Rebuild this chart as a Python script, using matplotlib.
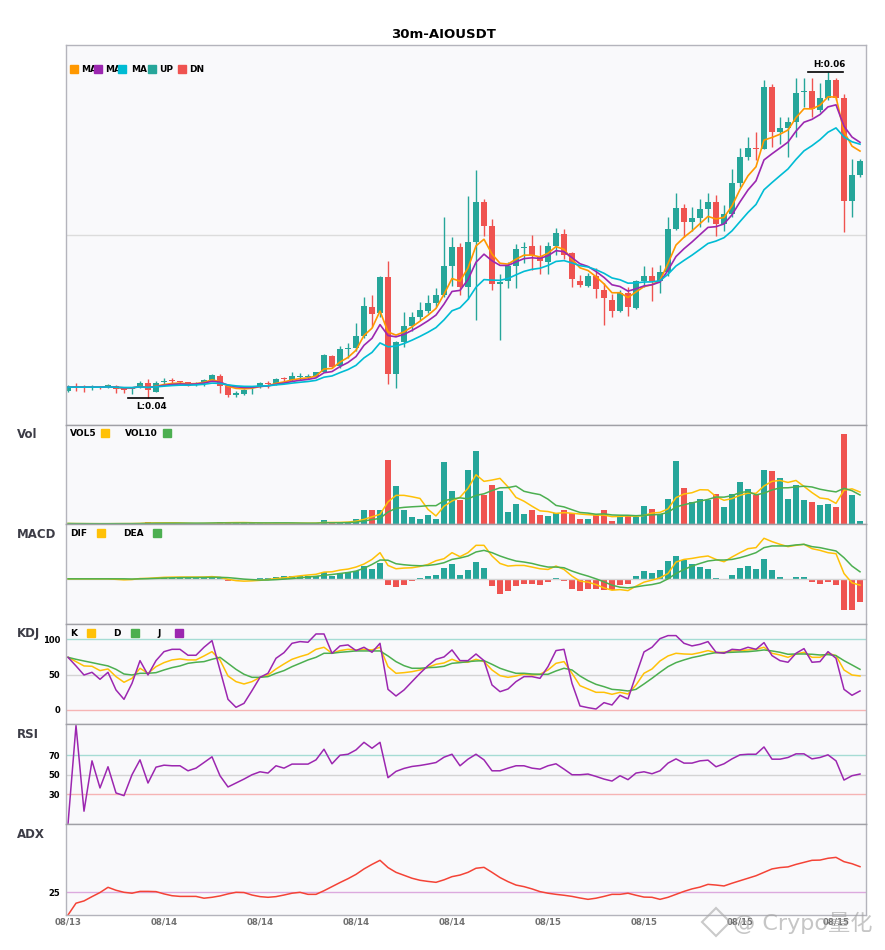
import matplotlib
matplotlib.use('Agg')
import matplotlib.pyplot as plt
from matplotlib.patches import Rectangle, Polygon
import numpy as np
import pandas as pd

#--------------------------     data     --------------------------#

tick_idx = [0, 12, 24, 36, 48, 60, 72, 84, 96]
tick_labels = ['08/13', '08/14', '08/14', '08/14', '08/14', '08/15', '08/15', '08/15', '08/15']

opens = [
    0.04041, 0.04070, 0.04068, 0.04065, 0.04067, 0.04064, 0.04074, 0.04062, 0.04053, 0.04066,
    0.04091, 0.04039, 0.04099, 0.04108, 0.04102, 0.04097, 0.04081, 0.04091, 0.04111, 0.04136,
    0.04070, 0.04015, 0.04026, 0.04062, 0.04076, 0.04090, 0.04085, 0.04125, 0.04111, 0.04130,
    0.04130, 0.04131, 0.04162, 0.04258, 0.04193, 0.04301, 0.04305, 0.04377, 0.04560, 0.04520,
    0.04744, 0.04148, 0.04346, 0.04444, 0.04499, 0.04536, 0.04581, 0.04632, 0.04810, 0.04925,
    0.04683, 0.04959, 0.05204, 0.05055, 0.04700, 0.04720, 0.04810, 0.04922, 0.04933, 0.04871,
    0.04836, 0.04933, 0.05004, 0.04888, 0.04718, 0.04687, 0.04749, 0.04663, 0.04602, 0.04536,
    0.04643, 0.04551, 0.04718, 0.04749, 0.04718, 0.04771, 0.05035, 0.05164, 0.05082, 0.05106,
    0.05159, 0.05202, 0.05067, 0.05127, 0.05321, 0.05480, 0.05533, 0.05529, 0.05909, 0.05630,
    0.05658, 0.05695, 0.05877, 0.05883, 0.05766, 0.05842, 0.05950, 0.05842, 0.05208, 0.05368]
highs = [
    0.04081, 0.04090, 0.04081, 0.04081, 0.04074, 0.04084, 0.04078, 0.04065, 0.04065, 0.04105,
    0.04117, 0.04101, 0.04123, 0.04123, 0.04105, 0.04099, 0.04099, 0.04117, 0.04148, 0.04148,
    0.04074, 0.04041, 0.04056, 0.04076, 0.04095, 0.04105, 0.04123, 0.04131, 0.04156, 0.04152,
    0.04148, 0.04162, 0.04271, 0.04264, 0.04320, 0.04336, 0.04462, 0.04622, 0.04632, 0.04749,
    0.04842, 0.04349, 0.04530, 0.04526, 0.04591, 0.04632, 0.04673, 0.05112, 0.04990, 0.04953,
    0.05239, 0.05398, 0.05221, 0.05096, 0.04761, 0.04836, 0.04945, 0.04957, 0.05000, 0.04939,
    0.04959, 0.05041, 0.05035, 0.04898, 0.04755, 0.04765, 0.04800, 0.04704, 0.04638, 0.04659,
    0.04683, 0.04724, 0.04810, 0.04806, 0.04816, 0.05109, 0.05256, 0.05190, 0.05172, 0.05221,
    0.05256, 0.05242, 0.05184, 0.05402, 0.05535, 0.05603, 0.05633, 0.05950, 0.05924, 0.05725,
    0.05725, 0.05964, 0.05964, 0.05964, 0.05930, 0.06001, 0.05964, 0.05867, 0.05466, 0.05466]
lows = [
    0.04038, 0.04044, 0.04038, 0.04050, 0.04056, 0.04062, 0.04032, 0.04032, 0.04022, 0.04062,
    0.03998, 0.04038, 0.04087, 0.04084, 0.04081, 0.04074, 0.04071, 0.04070, 0.04108, 0.04032,
    0.04003, 0.04007, 0.04015, 0.04026, 0.04062, 0.04062, 0.04081, 0.04095, 0.04105, 0.04111,
    0.04117, 0.04127, 0.04160, 0.04182, 0.04185, 0.04246, 0.04285, 0.04369, 0.04438, 0.04499,
    0.04087, 0.04058, 0.04315, 0.04413, 0.04479, 0.04520, 0.04560, 0.04622, 0.04687, 0.04632,
    0.04606, 0.04479, 0.04994, 0.04659, 0.04356, 0.04673, 0.04673, 0.04828, 0.04785, 0.04761,
    0.04761, 0.04877, 0.04851, 0.04679, 0.04679, 0.04679, 0.04612, 0.04448, 0.04499, 0.04524,
    0.04505, 0.04545, 0.04683, 0.04597, 0.04646, 0.04749, 0.05031, 0.04990, 0.05025, 0.05051,
    0.05078, 0.04994, 0.05025, 0.05110, 0.05296, 0.05460, 0.05460, 0.05525, 0.05541, 0.05556,
    0.05480, 0.05603, 0.05786, 0.05725, 0.05756, 0.05828, 0.05828, 0.05020, 0.05112, 0.05357]
closes = [
    0.04066, 0.04068, 0.04065, 0.04067, 0.04065, 0.04077, 0.04054, 0.04050, 0.04062, 0.04091,
    0.04046, 0.04091, 0.04102, 0.04102, 0.04096, 0.04076, 0.04091, 0.04111, 0.04142, 0.04076,
    0.04015, 0.04033, 0.04050, 0.04066, 0.04091, 0.04084, 0.04119, 0.04115, 0.04136, 0.04133,
    0.04133, 0.04156, 0.04264, 0.04187, 0.04299, 0.04305, 0.04381, 0.04565, 0.04516, 0.04744,
    0.04148, 0.04346, 0.04444, 0.04499, 0.04540, 0.04581, 0.04632, 0.04810, 0.04925, 0.04683,
    0.04959, 0.05204, 0.05055, 0.04700, 0.04714, 0.04810, 0.04912, 0.04925, 0.04877, 0.04842,
    0.04933, 0.05010, 0.04877, 0.04728, 0.04694, 0.04749, 0.04667, 0.04612, 0.04536, 0.04646,
    0.04557, 0.04718, 0.04749, 0.04718, 0.04771, 0.05035, 0.05164, 0.05082, 0.05102, 0.05159,
    0.05202, 0.05066, 0.05127, 0.05319, 0.05480, 0.05531, 0.05529, 0.05909, 0.05630, 0.05658,
    0.05695, 0.05872, 0.05883, 0.05771, 0.05842, 0.05950, 0.05842, 0.05208, 0.05368, 0.05454]

# moving-average spans of the three price lines
ma_spans = [5, 8, 15]

# volume, thousands
volumes = [
    0.5, 0.3, 0.3, 0.2, 0.2, 0.4, 0.6, 0.5, 0.4, 1.0,
    2.5, 1.2, 0.6, 0.6, 0.5, 0.6, 0.4, 0.8, 1.5, 2.2,
    1.6, 1.0, 1.0, 0.6, 0.8, 0.7, 1.0, 0.8, 1.0, 0.6,
    0.6, 1.2, 4.3, 1.0, 1.0, 2.3, 5.3, 13.7, 13.7, 13.7,
    64.3, 38.3, 13.7, 6.7, 5.3, 9.3, 5.3, 62.5, 32.7, 24.3,
    54.3, 73.3, 29.3, 39.3, 32.7, 11.7, 20.3, 10.3, 14.3, 9.3,
    8.3, 11.0, 14.3, 11.0, 5.3, 5.3, 8.7, 14.3, 3.3, 6.7,
    7.7, 6.7, 18.3, 15.3, 10.3, 25.3, 63.3, 36.3, 21.7, 25.3,
    24.3, 30.3, 17.3, 30.3, 41.7, 35.3, 29.3, 54.3, 53.3, 46.3,
    25.3, 39.3, 24.3, 22.3, 19.3, 20.3, 17.3, 90.3, 29.3, 3.3]

# MACD, x1e-5
dif = [
    0, 0, 0, 0, 0, 0, -0.5, -1, -0.7, 0.3,
    0.5, 1, 1.5, 1.7, 1.8, 1.8, 1.8, 1.8, 2.2, 1.5,
    -0.5, -1.8, -2.3, -2, -1.5, -0.7, 0.3, 1, 2, 3,
    3.8, 4.5, 6.7, 7, 8.7, 9.7, 11.7, 14.7, 19.3, 26,
    13.3, 10, 10.7, 11, 12.3, 14.3, 18, 20, 26, 22,
    26, 33.3, 33.3, 22.7, 15.3, 12.7, 13.3, 13.3, 11.7, 10,
    9.3, 12.7, 9.3, 2.7, -2.3, -3.3, -5.7, -9, -11.3, -10.7,
    -11.7, -7.3, -3.3, -1.3, 1, 5.3, 16.7, 19.3, 20.3, 21.7,
    22.7, 19.3, 17, 21.7, 26, 30, 31, 40.3, 37, 34.3,
    32, 33.3, 34.3, 30, 28.3, 26, 25, 5.3, -4, -6.3]
dea = [
    0, 0, 0, 0, 0, 0, 0, 0, -0.2, 0,
    0.2, 0.5, 0.8, 1, 1.2, 1.3, 1.3, 1.4, 1.5, 1.5,
    1.2, 0.5, -0.3, -0.8, -1.2, -1.2, -0.8, -0.3, 0.3, 1,
    1.8, 2.5, 3.5, 4.3, 5.3, 6.3, 7.7, 10.5, 14.3, 18.7,
    18.5, 15, 14, 13.3, 13, 13.3, 14.3, 16, 19.3, 20.7,
    22.7, 26.7, 28.3, 26, 22.7, 20, 17.7, 16.7, 15.3, 13.3,
    11.7, 11.7, 11, 7.7, 5, 2.7, 0, -3, -6.3, -8.3,
    -9, -8, -6.7, -5.7, -4, 0, 5.3, 9.3, 12.7, 15.3,
    17.7, 18.7, 18.7, 19.3, 21, 23.3, 26, 31, 32.7, 32.7,
    32.7, 33.7, 34.3, 32, 31, 29.3, 27.7, 21, 12.7, 7]
macd_hist = [
    0, 0, 0, 0, 0, 0, -0.7, -1, -0.8, 0.5,
    0.5, 0.8, 1.2, 1.3, 1.2, 1, 1, 0.8, 1.3, 0.8,
    -2, -2.3, -1.5, -0.5, 1, 1, 2.3, 2.7, 3.3, 3.3,
    3.3, 3.3, 6.7, 3.3, 6, 6.7, 7.7, 12.7, 10, 15.3,
    -6.3, -8.3, -5.7, -1.7, 1, 3.3, 4.3, 10.3, 14.3, 4.3,
    8.3, 16.7, 10.3, -7.3, -14.7, -12.3, -7.3, -4.7, -4.7, -6.3,
    -3.3, 1.3, -2.3, -9.7, -12.3, -9.7, -9.7, -10.7, -10.7, -5.7,
    -4.7, 2.7, 7.7, 6, 8.3, 17.3, 22.7, 18.7, 14.3, 11.7,
    9.3, 1.3, -0.7, 4.3, 10.3, 12.7, 9.3, 19.3, 8.3, 2.3,
    -0.3, 2.3, 2.3, -3.3, -4.7, -2.7, -6.3, -30.7, -30.7, -23.3]

k_vals = [
    74.5, 68.4, 62.3, 61.8, 55.7, 58, 47.2, 39.2, 44.8, 59,
    51.9, 61.3, 67, 70.8, 72.2, 70.8, 70.8, 76.4, 82.5, 70.8,
    48.1, 40.1, 36.8, 40.1, 46.2, 49.5, 58, 65.1, 71.7, 75.5,
    78.8, 85.8, 88.7, 80.2, 84, 85.8, 84.9, 85.8, 84.9, 88.7,
    61.3, 51.9, 52.8, 54.2, 56.6, 60.4, 64.6, 66.5, 71.7, 67.5,
    67.5, 71.7, 68.4, 56.6, 48.6, 46.2, 48.1, 50.9, 49.5, 50.5,
    56.6, 66, 68.4, 51.9, 34.4, 29.7, 25, 25, 22.2, 25,
    22.6, 35.4, 51.9, 58, 69.3, 76.4, 80.2, 79.2, 78.8, 81.1,
    84, 81.1, 81.6, 83.5, 84, 84.9, 85.8, 88.7, 80.2, 77.8,
    74.5, 79.2, 81.6, 74.5, 74.5, 80.2, 76.9, 56.6, 49.5, 48.1]
d_vals = [
    74.5, 71.7, 69.3, 67, 64.6, 62.3, 57.5, 50.9, 49.5, 51.9,
    51.9, 52.8, 56.6, 59.9, 62.3, 66, 67.5, 68.4, 71.7, 74.5,
    66, 57.5, 50.5, 46.2, 46.2, 47.2, 51.9, 55.7, 61.3, 66,
    70.8, 74.5, 80.2, 80.2, 81.6, 82.5, 83.5, 83.5, 83.5, 83.5,
    76.4, 68.4, 62.7, 59, 59, 59.9, 60.4, 61.8, 66, 67,
    68.4, 69.3, 69.8, 64.6, 59, 55.2, 51.9, 51.9, 50.9, 50.5,
    50.5, 55.2, 59, 56.6, 48.1, 41.5, 36.3, 33, 29.2, 28.3,
    26.9, 29.2, 36.8, 44.8, 53.3, 61.3, 67, 70.8, 74.1, 76.4,
    79.2, 81.1, 81.1, 81.6, 82.1, 82.5, 83.5, 84.9, 83.5, 81.6,
    78.8, 79.2, 79.2, 78.8, 77.8, 78.3, 76.9, 69.8, 63.7, 57.5]
j_vals = [
    74.5, 62.3, 49.5, 53.3, 43.4, 53.3, 28.3, 15.1, 37.7, 69.8,
    49.5, 69.8, 82.5, 85.8, 85.8, 77.4, 77.4, 88.7, 98.1, 56.6,
    15.1, 3.8, 9.4, 27.4, 46.2, 51.9, 73.1, 81.1, 94.3, 96.7,
    95.8, 107.5, 107.5, 80.2, 90.6, 92, 84, 88.7, 81.6, 94.3,
    29.2, 19.8, 28.3, 40.1, 51.9, 62.7, 71.7, 75, 84.9, 69.8,
    69.8, 79.2, 69.8, 35.4, 25.9, 29.7, 40.1, 47.2, 47.2, 44.8,
    61.3, 84, 85.8, 37.7, 5.7, 3.3, 1.4, 10.4, 7.1, 20.8,
    15.6, 49.5, 82.1, 88.7, 100.9, 105.2, 105.2, 94.3, 90.6, 92.9,
    96.7, 81.6, 80.2, 85.8, 84.9, 88.7, 85.8, 95.3, 76.9, 69.8,
    67.5, 80.2, 86.8, 67.5, 68.4, 82.5, 73.1, 29.2, 20.8, 26.9]

rsi_vals = [
    0, 100, 13, 64.1, 36.6, 58.1, 31.5, 28.8, 50, 65.1,
    41.6, 57.7, 59.7, 59.1, 59.1, 54, 56.7, 62.4, 68.2, 49,
    37.6, 41.6, 45.6, 50, 53, 51.7, 59.1, 56.7, 60.8, 60.8,
    60.8, 65.1, 75.9, 61.1, 69.8, 70.8, 75.2, 82.9, 76.9, 82.9,
    47, 53.4, 56.4, 58.4, 59.4, 60.8, 62.4, 67.8, 70.8, 59.1,
    65.8, 70.8, 65.1, 54, 54, 56.7, 59.1, 59.1, 56.7, 55.7,
    59.1, 61.1, 55.7, 50, 50, 50.7, 48.3, 45.6, 43.6, 49,
    45, 51.7, 53, 51, 54, 61.8, 66.1, 61.8, 61.8, 64.1,
    64.8, 58.1, 61.1, 66.1, 70.2, 70.8, 70.8, 78.2, 65.8, 65.8,
    67.5, 71.2, 71.2, 66.1, 67.5, 70.2, 64.1, 44.6, 49, 50.7]

adx_vals = [
    15, 20.2, 21.2, 23.1, 24.9, 27.2, 25.9, 25, 24.6, 25.4,
    25.4, 25.3, 24.3, 23.5, 23.2, 23.2, 23.2, 22.4, 22.8, 23.4,
    24.3, 25, 24.9, 23.8, 23.1, 22.8, 23.1, 23.8, 24.6, 25,
    24.1, 24.1, 25.7, 27.5, 29.3, 31, 32.9, 35.3, 37.3, 39.1,
    35.9, 33.8, 32.5, 31.2, 30.3, 29.8, 29.4, 30.5, 31.9, 32.6,
    33.8, 35.6, 36, 33.8, 31.5, 29.7, 28.2, 27.5, 26.5, 25.3,
    24.6, 24.1, 23.7, 23.2, 22.5, 21.9, 22.4, 23.2, 24.1, 24.1,
    24.6, 23.7, 22.9, 22.8, 21.9, 22.8, 24.1, 25.4, 26.5, 27.3,
    28.5, 28.2, 27.8, 29, 30.1, 31.2, 32.3, 33.8, 35.3, 35.9,
    36.2, 37.3, 38.2, 39.1, 39.2, 40, 40.4, 38.5, 37.6, 36.3]

#--------------------------     style     --------------------------#

UP = '#26A69A'
DN = '#EF5350'
ORANGE = '#FF9800'
PURPLE = '#9C27B0'
CYAN = '#00BCD4'
YELLOW = '#FFC107'
GREEN = '#4CAF50'
BG = '#F9F9FB'

W, H = 885, 950
fig = plt.figure(figsize=(8.85, 9.5), dpi=100)


def box(top, bottom):
    return [66 / W, 1 - bottom / H, 800 / W, (bottom - top) / H]


ax_k = fig.add_axes(box(45, 425))
ax_v = fig.add_axes(box(425, 524), sharex=ax_k)
ax_m = fig.add_axes(box(524, 624), sharex=ax_k)
ax_kdj = fig.add_axes(box(624, 724), sharex=ax_k)
ax_rsi = fig.add_axes(box(724, 824), sharex=ax_k)
ax_adx = fig.add_axes(box(824, 915), sharex=ax_k)
axes = [ax_k, ax_v, ax_m, ax_kdj, ax_rsi, ax_adx]

for ax in axes:
    ax.set_facecolor(BG)
    for s in ax.spines.values():
        s.set_color('#b4b4bc')
        s.set_linewidth(1)
    ax.tick_params(axis='x', bottom=False, labelbottom=False, length=0)
    ax.tick_params(axis='y', length=0, labelsize=6, pad=4)
for ax in axes[1:]:
    ax.spines['top'].set_color('#a0a0a6')

x = np.arange(len(closes))
o = np.array(opens)
h = np.array(highs)
l = np.array(lows)
c = np.array(closes)
col = np.where(c >= o, UP, DN)

#--------------------------     candles     --------------------------#

ax_k.vlines(x, l, h, colors=col, lw=1, zorder=2)
ax_k.bar(x, np.maximum(np.abs(c - o), 0.00004), bottom=np.minimum(o, c),
         width=0.7, color=col, zorder=2)
cs = pd.Series(closes)
for span, color in zip(ma_spans, [ORANGE, PURPLE, CYAN]):
    ax_k.plot(x, cs.ewm(span=span, adjust=False).mean(), color=color, lw=1.2, zorder=3)
ax_k.axhline(0.05, color='#dcdcdc', lw=1, zorder=1)
ax_k.set_yticks([])

hi_i = int(np.argmax(h))
lo_i = int(np.argmin(l))
ax_k.plot([hi_i - 2.5, hi_i + 1.9], [h[hi_i]] * 2, color='black', lw=1.2, zorder=4)
ax_k.annotate(f'H:{h[hi_i]:.2f}', (hi_i + 0.2, h[hi_i]), xytext=(0, 2),
              textcoords='offset points', ha='center', va='bottom',
              fontsize=6.3, fontweight='bold')
ax_k.plot([lo_i - 2.5, lo_i + 1.9], [l[lo_i]] * 2, color='black', lw=1.2, zorder=4)
ax_k.annotate(f'L:{l[lo_i]:.2f}', (lo_i + 0.5, l[lo_i]), xytext=(0, -2.5),
              textcoords='offset points', ha='center', va='top',
              fontsize=6.3, fontweight='bold')
rng = h.max() - l.min()
ax_k.set_ylim(l.min() - 0.082 * rng, h.max() + 0.082 * rng)
ax_k.set_xlim(-0.25, len(x) - 0.25)

#--------------------------     volume     --------------------------#

vs = pd.Series(volumes)
ax_v.bar(x, volumes, width=0.7, color=col)
ax_v.plot(x, vs.rolling(5, min_periods=1).mean(), color=YELLOW, lw=1.1)
ax_v.plot(x, vs.rolling(10, min_periods=1).mean(), color=GREEN, lw=1.1)
ax_v.set_ylim(0, max(volumes) * 1.1)
ax_v.set_yticks([])

#--------------------------     MACD     --------------------------#

mh = np.array(macd_hist)
ax_m.axhline(0, color='#d4d4d4', lw=1)
ax_m.bar(x, mh, width=0.7, color=np.where(mh >= 0, UP, DN))
ax_m.plot(x, dif, color=YELLOW, lw=1.1)
ax_m.plot(x, dea, color=GREEN, lw=1.1)
lo_m = min(min(dif), min(dea), mh.min())
hi_m = max(max(dif), max(dea), mh.max())
ax_m.set_ylim(lo_m - 0.2 * (hi_m - lo_m), hi_m + 0.2 * (hi_m - lo_m))
ax_m.set_yticks([])

#--------------------------     KDJ / RSI / ADX     --------------------------#

for lvl, lc in [(100, '#a6dcd4'), (50, '#d4d4d4'), (0, '#f6b4b4')]:
    ax_kdj.axhline(lvl, color=lc, lw=1)
ax_kdj.plot(x, k_vals, color=YELLOW, lw=1.1)
ax_kdj.plot(x, d_vals, color=GREEN, lw=1.1)
ax_kdj.plot(x, j_vals, color=PURPLE, lw=1.1)
ax_kdj.set_ylim(-19.8, 121.6)
ax_kdj.set_yticks([0, 50, 100])

for lvl, lc in [(70, '#a6dcd4'), (50, '#d4d4d4'), (30, '#f6b4b4')]:
    ax_rsi.axhline(lvl, color=lc, lw=1)
ax_rsi.plot(x, rsi_vals, color=PURPLE, lw=1.1)
ax_rsi.set_ylim(0, 101.5)
ax_rsi.set_yticks([30, 50, 70])

ax_adx.axhline(25, color='#dcaade', lw=1)
ax_adx.plot(x, adx_vals, color='#F44336', lw=1.1)
ax_adx.set_ylim(15, 55.1)
ax_adx.set_yticks([25])

for ax in [ax_kdj, ax_rsi, ax_adx]:
    for t in ax.get_yticklabels():
        t.set_fontweight('bold')

ax_adx.set_xticks(tick_idx)
ax_adx.set_xticklabels(tick_labels)
ax_adx.tick_params(axis='x', labelbottom=True, labelsize=6.2, labelcolor='#707070', pad=1.5)
for t in ax_adx.get_xticklabels():
    t.set_fontweight('bold')

#--------------------------     titles and legends     --------------------------#

fig.text(443 / W, 1 - 34 / H, '30m-AIOUSDT', ha='center', va='center',
         fontsize=9.5, fontweight='bold')
for name, yp in [('Vol', 435), ('MACD', 535), ('KDJ', 634), ('RSI', 735), ('ADX', 835)]:
    fig.text(17 / W, 1 - yp / H, name, va='center', fontsize=8.5,
             fontweight='bold', color='#3c3c46')


def square(xp, yp, color, z):
    fig.patches.append(Rectangle((xp / W, 1 - (yp + 4) / H), 8 / W, 8 / H,
                                 transform=fig.transFigure, color=color, zorder=z))


def label(xp, yp, s, z, bg=False):
    kw = dict(fontsize=6.5, fontweight='bold', va='center', zorder=z)
    if bg:
        kw['bbox'] = dict(boxstyle='square,pad=0.5', fc=BG, ec='none')
    fig.text(xp / W, 1 - yp / H, s, **kw)


# each legend entry hides the tail of the one before it, as in the source chart
main_items = [(70, 81, ORANGE, f'MA{ma_spans[0]}'), (94, 105, PURPLE, f'MA{ma_spans[1]}'),
              (118, 131, CYAN, f'MA{ma_spans[2]}'), (148, 159, UP, 'UP'), (178, 189, DN, 'DN')]
for n, (sx, tx, color, s) in enumerate(main_items):
    label(tx, 69, s, 10 + 2 * n, bg=True)
    square(sx, 69, color, 11 + 2 * n)

label(70, 433, 'VOL5', 5)
square(101, 433, YELLOW, 6)
label(125, 433, 'VOL10', 5)
square(163, 433, GREEN, 6)

label(70, 533, 'DIF', 5)
square(97, 533, YELLOW, 6)
label(123, 533, 'DEA', 5)
square(153, 533, GREEN, 6)

label(70, 633, 'K', 5)
square(87, 633, YELLOW, 6)
label(113, 633, 'D', 5)
square(131, 633, GREEN, 6)
label(157, 633, 'J', 5)
square(175, 633, PURPLE, 6)

# watermark
fig.patches.append(Polygon([(716 / W, 1 - 908 / H), (730 / W, 1 - 922 / H),
                            (716 / W, 1 - 936 / H), (702 / W, 1 - 922 / H)],
                           closed=True, fill=False, ec='#a8a8a8', lw=1.5, alpha=0.6,
                           transform=fig.transFigure, zorder=20))
fig.text(733 / W, 1 - 923 / H, '@ Crypo量化', va='center', fontsize=16,
         color='#a0a0a0', alpha=0.6, zorder=20,
         family=['DejaVu Sans', 'Noto Sans CJK SC'])

fig.savefig('out.png', dpi=100, facecolor='white')
